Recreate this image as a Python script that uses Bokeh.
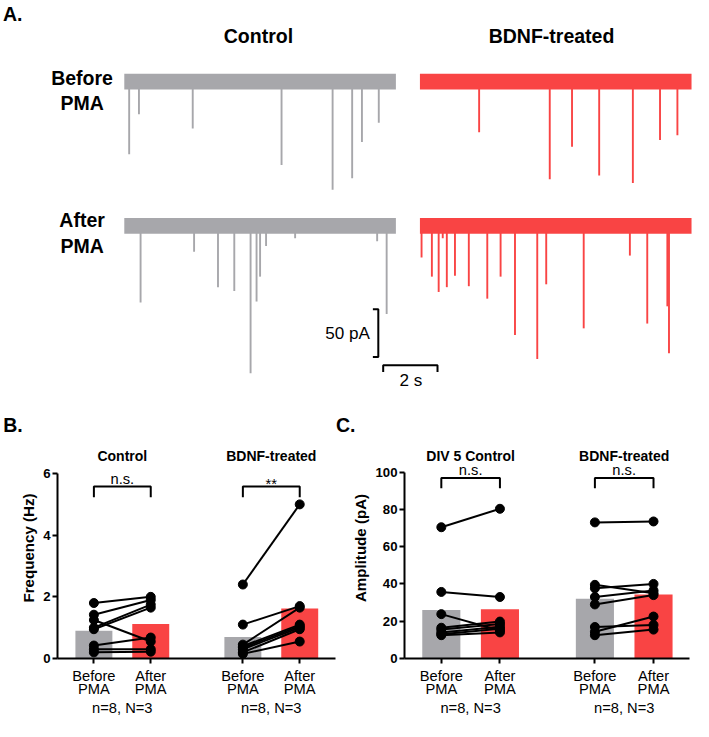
from bokeh.plotting import figure
from bokeh.models import Range1d, Label, FixedTicker, LinearAxis
from bokeh.layouts import column, row
from bokeh.embed import file_html
from bokeh.resources import INLINE

# ---------------- data ----------------
trace_duration_s = 10
scalebar_pA = 50
scalebar_s = 2
row_titles = ["Before\nPMA", "After\nPMA"]
col_titles = ["Control", "BDNF-treated"]

ctrl_before_t = [0.18, 0.54, 2.52, 5.79, 7.67, 8.39, 8.75, 9.37]
ctrl_before_amp = [76, 34, 49, 87, 113, 101, 63, 43]
bdnf_before_t = [2.18, 4.78, 5.60, 6.60, 7.84, 8.84, 9.48]
bdnf_before_amp = [53, 102, 68, 98, 106, 61, 56]
ctrl_after_t = [0.60, 2.57, 3.45, 4.05, 4.65, 4.87, 5.00, 5.22, 6.29, 9.31, 9.66]
ctrl_after_amp = [80, 27, 64, 68, 154, 79, 53, 21, 13, 16, 92]
bdnf_after_t = [0.06, 0.44, 0.69, 0.84, 0.99, 1.29, 1.80, 2.48, 2.97, 3.50,
                4.32, 4.65, 6.03, 7.73, 8.37, 9.11, 9.17]
bdnf_after_amp = [33, 53, 69, 13, 64, 52, 63, 76, 53, 114, 139, 61, 107, 31, 102, 84, 133]

cat_labels = ["Before\nPMA", "After\nPMA", "Before\nPMA", "After\nPMA"]
n_label = "n=8, N=3"

freq_groups = ["Control", "BDNF-treated"]
freq_sig = ["n.s.", "**"]
freq_bar = [0.90, 1.12, 0.70, 1.62]
ctrl_freq_before = [1.80, 1.42, 1.25, 1.00, 0.95, 0.42, 0.30, 0.20]
ctrl_freq_after = [2.00, 1.90, 0.55, 1.75, 1.65, 0.68, 0.30, 0.22]
bdnf_freq_before = [2.40, 1.10, 0.45, 0.40, 0.35, 0.30, 0.20, 0.15]
bdnf_freq_after = [5.00, 1.70, 1.65, 1.10, 1.05, 1.00, 0.95, 0.55]
freq_ticks = [0, 2, 4, 6]

amp_groups = ["DIV 5 Control", "BDNF-treated"]
amp_sig = ["n.s.", "n.s."]
amp_bar = [26.0, 26.4, 32.0, 34.3]
ctrl_amp_before = [70.4, 35.7, 23.8, 16.5, 15.5, 14.0, 13.0, 12.5]
ctrl_amp_after = [80.3, 33.0, 15.0, 19.8, 18.5, 17.0, 16.0, 14.0]
bdnf_amp_before = [73.0, 39.5, 37.7, 33.0, 29.0, 16.9, 14.3, 12.5]
bdnf_amp_after = [73.5, 35.0, 40.0, 36.5, 34.0, 18.0, 22.5, 15.5]
amp_ticks = [0, 20, 40, 60, 80, 100]

# ---------------- style ----------------
S = 0.977               # reference px -> page px
FONT = "Liberation Sans"
GRAY = "#a7a7ab"
RED = "#f94444"
W = 693


def lab(p, x, y, text, size, bold=False, align="center"):
    p.add_layout(Label(x=x, y=y, text=text, text_font=FONT, text_font_size=f"{size * S:.1f}px",
                       text_font_style="bold" if bold else "normal", text_align=align,
                       text_baseline="middle", text_color="black"))


# ---------------- Panel A (plus panel letters B. / C.) ----------------
HA = 437
PX_S, PX_PA = 27.8, 0.98          # reference px per s / per pA
T0, B0 = 126.7, 83.0              # reference px of t=0 and baseline


def ax_(rx):
    return (rx - T0) / PX_S


def ay_(ry):
    return -(ry - B0) / PX_PA


pa = figure(width=W, height=HA, x_range=Range1d(ax_(0), ax_(W / S)),
            y_range=Range1d(ay_(HA / S), ay_(0)), output_backend="svg",
            toolbar_location=None, title=None, min_border=0,
            x_axis_location=None, y_axis_location=None)
pa.grid.visible = False
pa.outline_line_color = None

COL_OFF = (429.3 - T0) / PX_S
ROW_OFF = ay_(230.7)
traces = [(ctrl_before_t, ctrl_before_amp, 0, 0, GRAY),
          (bdnf_before_t, bdnf_before_amp, COL_OFF, 0, RED),
          (ctrl_after_t, ctrl_after_amp, 0, ROW_OFF, GRAY),
          (bdnf_after_t, bdnf_after_amp, COL_OFF, ROW_OFF, RED)]
for t, a, dx, dy, c in traces:
    xs = [dx + ti for ti in t]
    pa.segment(x0=xs, y0=[dy] * len(xs), x1=xs, y1=[dy - ai for ai in a],
               line_color=c, line_width=1.9)
    pa.quad(left=dx, right=dx + trace_duration_s, bottom=dy - 8.3, top=dy + 8.3,
            fill_color=c, line_color=None)


def labA(rx, rbase, text, size, bold=True, align="center"):
    lab(pa, ax_(rx), ay_(rbase - 0.35 * size), text, size, bold, align)


labA(2.5, 21, "A.", 20, align="left")
labA(264, 43.3, col_titles[0], 20)
labA(564, 43.3, col_titles[1], 20)
for (l1, l2), b1, b2 in zip([r.split("\n") for r in row_titles], [86.7, 231.7], [111.7, 258.3]):
    labA(83.5, b1, l1, 20)
    labA(83.5, b2, l2, 20)
labA(2.7, 441.7, "B.", 20, align="left")
labA(343.3, 441.7, "C.", 20, align="left")

# scale bars
vx = ax_(386.7)
vy0 = ay_(316)
pa.line(x=[vx - 0.2, vx, vx, vx - 0.2], y=[vy0, vy0, vy0 - scalebar_pA, vy0 - scalebar_pA],
        line_color="black", line_width=2)
hx0 = ax_(391.7)
hy = ay_(373.3)
pa.line(x=[hx0, hx0, hx0 + scalebar_s, hx0 + scalebar_s], y=[hy - 7, hy, hy, hy - 7],
        line_color="black", line_width=2)
lab(pa, ax_(378), vy0 - scalebar_pA / 2, f"{scalebar_pA} pA", 17.5, align="right")
labA(420, 395, f"{scalebar_s} s", 17.5, bold=False)

# ---------------- Panels B & C ----------------
HB = 721 - HA
cat_x = [1, 2, 3.62, 4.62]
grp_x = [1.5, 4.12]


def panel(width, left, right, bottom, x0, unit_px, ppu, ticks, ylabel, groups, sig, bars,
          pairs, y_of, br_ref):
    frame_h = HB - bottom
    frame_w = width - left - right
    p = figure(width=width, height=HB, x_range=Range1d(x0, x0 + frame_w / (unit_px * S)),
               y_range=Range1d(0, frame_h / (ppu * S)),
               output_backend="svg", toolbar_location=None, title=None,
               min_border_left=left, min_border_right=right, min_border_top=0,
               min_border_bottom=bottom)
    p.grid.visible = False
    p.outline_line_color = None
    for ax in (p.xaxis[0], p.yaxis[0]):
        ax.axis_line_width = 2
        ax.axis_line_color = "black"
        ax.major_tick_line_width = 2
        ax.major_tick_line_color = "black"
        ax.major_tick_out = 5
        ax.major_tick_in = 0
        ax.minor_tick_out = 0
        ax.minor_tick_in = 0
        ax.major_label_text_color = "black"
        ax.major_label_text_font = FONT
    xa = p.xaxis[0]
    xa.ticker = FixedTicker(ticks=cat_x)
    xa.major_label_overrides = {x: l for x, l in zip(cat_x, cat_labels)}
    xa.major_label_text_font_size = f"{15 * S:.1f}px"
    xa.major_label_text_line_height = 0.82
    xa.major_label_standoff = 4
    nax = LinearAxis(ticker=FixedTicker(ticks=grp_x),
                     major_label_overrides={x: n_label for x in grp_x},
                     axis_line_color=None, major_tick_line_color=None,
                     minor_tick_line_color=None, major_label_text_color="black",
                     major_label_text_font=FONT, major_label_text_font_size=f"{15 * S:.1f}px",
                     major_label_standoff=-6)
    p.add_layout(nax, "below")
    ya = p.yaxis[0]
    ya.ticker = FixedTicker(ticks=ticks)
    ya.bounds = (ticks[0], ticks[-1])
    ya.major_label_text_font_style = "bold"
    ya.major_label_text_font_size = f"{13.5 * S:.1f}px"
    ya.major_label_standoff = 2
    ya.axis_label = ylabel
    ya.axis_label_text_font = FONT
    ya.axis_label_text_color = "black"
    ya.axis_label_text_font_style = "bold"
    ya.axis_label_text_font_size = f"{15.5 * S:.1f}px"
    ya.axis_label_standoff = 3

    p.vbar(x=cat_x, top=bars, width=0.65, fill_color=[GRAY, RED, GRAY, RED], line_color=None)

    def labP(x, rbase, text, size, bold=False):
        lab(p, x, y_of(rbase - 0.35 * size), text, size, bold)

    br_top, br_bot = y_of(br_ref[0]), y_of(br_ref[1])
    for g, (bef, aft) in enumerate(pairs):
        xb, xaft = cat_x[2 * g], cat_x[2 * g + 1]
        p.segment(x0=[xb] * len(bef), y0=bef, x1=[xaft] * len(aft), y1=aft,
                  line_color="black", line_width=2)
        p.scatter(x=[xb] * len(bef) + [xaft] * len(aft), y=bef + aft, size=9,
                  fill_color="black", line_color="black")
        xm = grp_x[g]
        labP(xm, 471, groups[g], 14.3, bold=True)
        p.line(x=[xb, xb, xaft, xaft], y=[br_bot, br_top, br_top, br_bot], line_color="black",
               line_width=2)
        if sig[g] == "**":
            labP(xm, br_ref[0] + 2.7, sig[g], 15)
        else:
            labP(xm, br_ref[0] - 2.5, sig[g], 15)
    return p


WB = 337
pB = panel(WB, 57, 2, 63, 0.36, 58.2, 31.55, freq_ticks, "Frequency (Hz)", freq_groups,
           freq_sig, freq_bar,
           [(ctrl_freq_before, ctrl_freq_after), (bdnf_freq_before, bdnf_freq_after)],
           lambda ry: (673.3 - ry) / 31.55, (497.3, 508.3))
WC = W - WB
pC = panel(WC, 67, 4, 62, 0.372, 60.0, 1.917, amp_ticks, "Amplitude (pA)", amp_groups,
           amp_sig, amp_bar,
           [(ctrl_amp_before, ctrl_amp_after), (bdnf_amp_before, bdnf_amp_after)],
           lambda ry: (674.0 - ry) / 1.917, (488.3, 499.0))

layout = column(pa, row(pB, pC))
open("out.html", "w").write(file_html(layout, INLINE))
